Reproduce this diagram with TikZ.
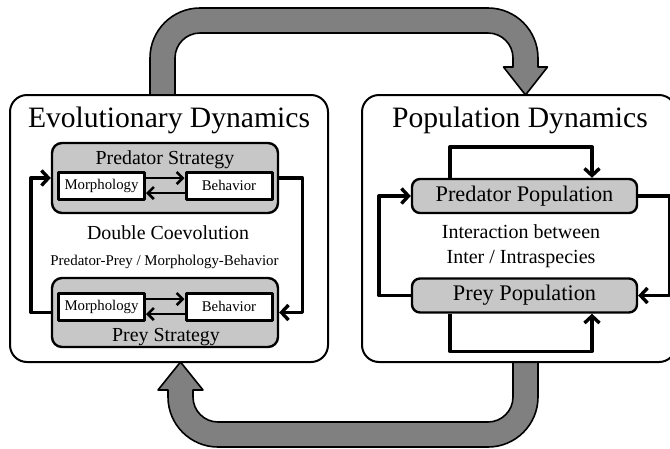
\documentclass[tikz,border=0pt]{standalone}
\usepackage{fontspec}
\setmainfont{Liberation Serif}
\usetikzlibrary{arrows.meta}

\begin{document}
\begin{tikzpicture}[x=1pt, y=-1pt, line join=round,
  panel/.style={draw, line width=2pt, rounded corners=17pt, fill=white, minimum height=267pt},
  strategy/.style={draw, line width=2.4pt, rounded corners=10pt, fill=black!22, minimum width=226pt, minimum height=70pt},
  trait/.style={draw, line width=3pt, fill=white, minimum width=86pt, minimum height=27pt, inner sep=0pt, font=\fontsize{14.8}{16}\selectfont},
  population/.style={draw, line width=2.4pt, rounded corners=8pt, fill=black!22, minimum width=225pt, minimum height=34pt, inner sep=0pt, font=\fontsize{22.3}{24}\selectfont},
  loop/.style={line width=3.4pt, -{Straight Barb[length=7pt,width=15pt]}},
  link/.style={line width=2.6pt, -{Straight Barb[length=6pt,width=12pt]}},
  bigarrow/.style={draw, line width=1.6pt, fill=black!50}]

\useasboundingbox (0,0) rectangle (670,448);

\path[bigarrow] (150,95) -- (150,58) .. controls (150,30.4) and (172.4,8) .. (200,8)
  -- (488,8) .. controls (515.6,8) and (538,30.4) .. (538,58) -- (538,67) -- (547.5,67)
  -- (525.5,95) -- (503.5,67) -- (513,67) -- (513,58) .. controls (513,44.2) and (501.8,33) .. (488,33)
  -- (200,33) .. controls (186.2,33) and (175,44.2) .. (175,58) -- (175,95) -- cycle;
\path[bigarrow] (538,362) -- (538,397) .. controls (538,424.6) and (515.6,447) .. (488,447)
  -- (218,447) .. controls (190.4,447) and (168,424.6) .. (168,397) -- (168,390) -- (158,390)
  -- (180.5,362) -- (203,390) -- (193,390) -- (193,397) .. controls (193,410.8) and (204.2,422) .. (218,422)
  -- (488,422) .. controls (501.8,422) and (513,410.8) .. (513,397) -- (513,362) -- cycle;

\node[panel, minimum width=318pt] (evo) at (169,228.5) {};
\node[panel, minimum width=314pt] (pop) at (519,228.5) {};
\node[font=\fontsize{29.6}{32}\selectfont, anchor=base] (evoT) at (169,127) {Evolutionary Dynamics};
\node[font=\fontsize{29.6}{32}\selectfont, anchor=base] (popT) at (520,127.5) {Population Dynamics};

\node[strategy] (predS) at (165,178) {};
\node[font=\fontsize{19.9}{22}\selectfont, anchor=base] (predST) at (165,164) {Predator Strategy};
\node[trait] (predM) at (101.5,185.5) {Morphology};
\node[trait] (predB) at (229,185.5) {Behavior};
\node[strategy, minimum height=69pt] (preyS) at (165,312.5) {};
\node[font=\fontsize{19.9}{22}\selectfont, anchor=base] (preyST) at (166,341) {Prey Strategy};
\node[trait] (preyM) at (101.5,306.5) {Morphology};
\node[trait] (preyB) at (229,306.5) {Behavior};

\node[font=\fontsize{19.9}{22}\selectfont, anchor=base] (coev) at (168,239) {Double Coevolution};
\node[font=\fontsize{14.9}{16}\selectfont, anchor=base] (coevS) at (164.5,265) {Predator-Prey / Morphology-Behavior};

\draw[link] ([yshift=7.5pt]predM.east) -- ([yshift=7.5pt]predB.west);
\draw[link] ([yshift=-7.5pt]predB.west) -- ([yshift=-7.5pt]predM.east);
\draw[link] ([yshift=7.5pt]preyM.east) -- ([yshift=7.5pt]preyB.west);
\draw[link] ([yshift=-7.5pt]preyB.west) -- ([yshift=-7.5pt]preyM.east);

\draw[loop] (preyS.west) -- ++(-20,0) |- (predS.west);
\draw[loop] (predS.east) -- ++(23,0) |- (preyS.east);

\node[population] (predP) at (524.5,196) {Predator Population};
\node[population] (preyP) at (524.5,295.5) {Prey Population};
\node[align=center, font=\fontsize{20}{25}\selectfont] (inter) at (521,245.8) {Interaction between\\Inter / Intraspecies};

\draw[loop] (preyP.west) -- ++(-32,0) |- (predP.west);
\draw[loop] (predP.east) -- ++(31,0) |- (preyP.east);
\draw[loop] ([xshift=-74.5pt]predP.north) -- ++(0,-31) -| ([xshift=67.5pt]predP.north);
\draw[loop] ([xshift=-74.5pt]preyP.south) -- ++(0,37.5) -| ([xshift=67.5pt]preyP.south);

\end{tikzpicture}
\end{document}
